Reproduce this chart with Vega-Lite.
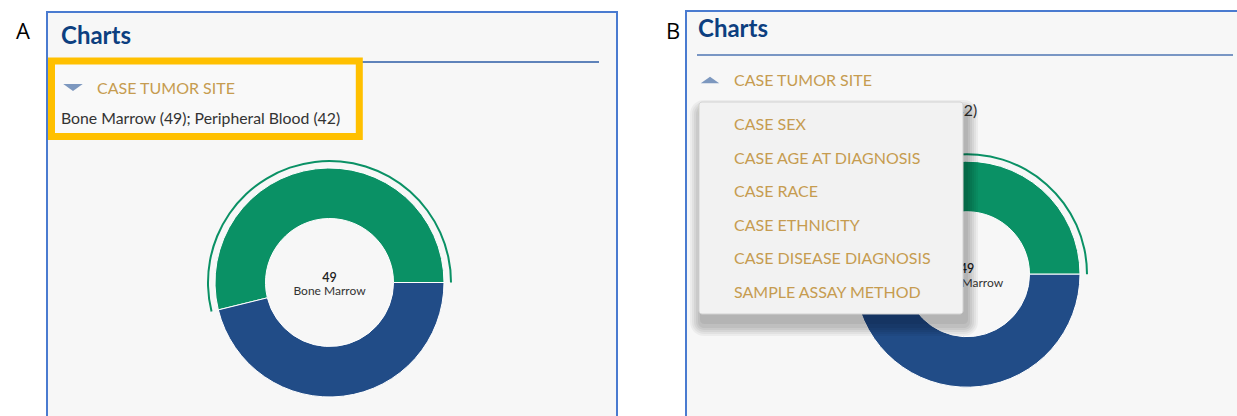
{
  "$schema": "https://vega.github.io/schema/vega-lite/v6.json",
  "width": 1237,
  "height": 416,
  "autosize": {"type": "none"},
  "padding": 0,
  "background": "white",
  "config": {"view": {"stroke": null}},
  "datasets": {
    "site": [
      {"site": "Bone Marrow", "count": 49},
      {"site": "Peripheral Blood", "count": 42}
    ],
    "menu": [
      {"item": "CASE SEX", "rank": 1},
      {"item": "CASE AGE AT DIAGNOSIS", "rank": 2},
      {"item": "CASE RACE", "rank": 3},
      {"item": "CASE ETHNICITY", "rank": 4},
      {"item": "CASE DISEASE DIAGNOSIS", "rank": 5},
      {"item": "SAMPLE ASSAY METHOD", "rank": 6}
    ],
    "one": [{"panel": "x"}]
  },
  "layer": [
    {
      "data": {"name": "one"},
      "mark": {"type": "rect", "fill": "#f7f7f7", "stroke": "#4a7bd0", "strokeWidth": 2},
      "encoding": {"x": {"value": 47}, "x2": {"value": 617}, "y": {"value": 12}, "y2": {"value": 450}}
    },
    {
      "data": {"name": "one"},
      "mark": {"type": "rect", "fill": "#f7f7f7", "stroke": "#4a7bd0", "strokeWidth": 2},
      "encoding": {"x": {"value": 686}, "x2": {"value": 1260}, "y": {"value": 11}, "y2": {"value": 450}}
    },
    {
      "data": {"values": [{"label": "A"}]},
      "mark": {"type": "text", "font": "Open Sans", "fontSize": 22, "color": "#000000", "align": "center", "baseline": "middle"},
      "encoding": {"text": {"field": "label"}, "x": {"value": 23}, "y": {"value": 32}}
    },
    {
      "data": {"values": [{"label": "B"}]},
      "mark": {"type": "text", "font": "Open Sans", "fontSize": 22, "color": "#000000", "align": "center", "baseline": "middle"},
      "encoding": {"text": {"field": "label"}, "x": {"value": 673}, "y": {"value": 32}}
    },
    {
      "data": {"values": [{"label": "Charts"}]},
      "mark": {"type": "text", "font": "Lato", "fontWeight": "bold", "fontSize": 24, "color": "#0d3f80", "align": "left", "baseline": "alphabetic"},
      "encoding": {"text": {"field": "label"}, "x": {"value": 61}, "y": {"value": 43.5}}
    },
    {
      "data": {"values": [{"label": "Charts"}]},
      "mark": {"type": "text", "font": "Lato", "fontWeight": "bold", "fontSize": 24, "color": "#0d3f80", "align": "left", "baseline": "alphabetic"},
      "encoding": {"text": {"field": "label"}, "x": {"value": 698}, "y": {"value": 37}}
    },
    {
      "data": {"name": "one"},
      "mark": {"type": "rule", "stroke": "#2d5ca6", "strokeWidth": 1.5},
      "encoding": {"x": {"value": 60}, "x2": {"value": 599}, "y": {"value": 62}}
    },
    {
      "data": {"name": "one"},
      "mark": {"type": "rule", "stroke": "#4f76b3", "strokeWidth": 1.5},
      "encoding": {"x": {"value": 697}, "x2": {"value": 1233}, "y": {"value": 55}}
    },
    {
      "data": {"name": "one"},
      "mark": {"type": "rect", "fill": "#f9f9f9", "stroke": "#ffc000", "strokeWidth": 7},
      "encoding": {"x": {"value": 51.5}, "x2": {"value": 359.3}, "y": {"value": 61}, "y2": {"value": 136.5}}
    },
    {
      "data": {"name": "one"},
      "mark": {"type": "point", "shape": "M-1,-0.35L1,-0.35L0,0.35Z", "size": 380, "filled": true, "color": "#7d98bf", "opacity": 1},
      "encoding": {"x": {"value": 73}, "y": {"value": 87.5}}
    },
    {
      "data": {"name": "one"},
      "mark": {"type": "point", "shape": "M-1,0.35L1,0.35L0,-0.35Z", "size": 340, "filled": true, "color": "#7d98bf", "opacity": 1},
      "encoding": {"x": {"value": 710}, "y": {"value": 80}}
    },
    {
      "data": {"values": [{"label": "CASE TUMOR SITE"}]},
      "mark": {"type": "text", "font": "Lato", "fontSize": 16, "color": "#c69c50", "align": "left", "baseline": "middle"},
      "encoding": {"text": {"field": "label"}, "x": {"value": 97}, "y": {"value": 89}}
    },
    {
      "data": {"values": [{"label": "CASE TUMOR SITE"}]},
      "mark": {"type": "text", "font": "Lato", "fontSize": 16, "color": "#c69c50", "align": "left", "baseline": "middle"},
      "encoding": {"text": {"field": "label"}, "x": {"value": 734}, "y": {"value": 81}}
    },
    {
      "data": {"values": [{"label": "Bone Marrow (49); Peripheral Blood (42)"}]},
      "mark": {"type": "text", "font": "Lato", "fontSize": 15.8, "color": "#333333", "align": "left", "baseline": "middle"},
      "encoding": {"text": {"field": "label"}, "x": {"value": 61}, "y": {"value": 119}}
    },
    {
      "data": {"values": [{"label": "Bone Marrow (49); Peripheral Blood (42)"}]},
      "mark": {"type": "text", "font": "Lato", "fontSize": 15.8, "color": "#333333", "align": "left", "baseline": "middle"},
      "encoding": {"text": {"field": "label"}, "x": {"value": 698}, "y": {"value": 111}}
    },
    {
      "data": {"name": "site"},
      "mark": {"type": "arc", "innerRadius": 64, "outerRadius": 114.5, "stroke": "#ffffff", "strokeWidth": 1},
      "encoding": {
        "theta": {"field": "count", "type": "quantitative", "stack": true, "scale": {"range": [1.5708, 7.854]}},
        "order": {"field": "site", "sort": "descending"},
        "color": {"field": "site", "type": "nominal", "legend": null, "scale": {"domain": ["Bone Marrow", "Peripheral Blood"], "range": ["#0a9165", "#214c87"]}},
        "x": {"value": 329.5},
        "y": {"value": 282.5}
      }
    },
    {
      "data": {"name": "site"},
      "mark": {"type": "arc", "innerRadius": 120.5, "outerRadius": 122.5, "fill": "#0a9165"},
      "encoding": {
        "theta": {"field": "count", "type": "quantitative", "stack": true},
        "order": {"field": "site", "sort": "descending"},
        "opacity": {"condition": {"test": "datum.site === 'Bone Marrow'", "value": 1}, "value": 0},
        "x": {"value": 329.5},
        "y": {"value": 282.5}
      }
    },
    {
      "data": {"values": [{"label": "49"}]},
      "mark": {"type": "text", "font": "Lato", "fontSize": 12.5, "fontWeight": 600, "color": "#222222", "align": "center", "baseline": "alphabetic"},
      "encoding": {"text": {"field": "label"}, "x": {"value": 329.5}, "y": {"value": 282}}
    },
    {
      "data": {"values": [{"label": "Bone Marrow"}]},
      "mark": {"type": "text", "font": "Lato", "fontSize": 12, "color": "#333333", "align": "center", "baseline": "alphabetic"},
      "encoding": {"text": {"field": "label"}, "x": {"value": 329.5}, "y": {"value": 295}}
    },
    {
      "data": {"name": "site"},
      "mark": {"type": "arc", "innerRadius": 62.5, "outerRadius": 113, "stroke": "#ffffff", "strokeWidth": 1},
      "encoding": {
        "theta": {"field": "count", "type": "quantitative", "stack": true},
        "order": {"field": "site", "sort": "descending"},
        "color": {"field": "site", "type": "nominal", "legend": null},
        "x": {"value": 967},
        "y": {"value": 274.2}
      }
    },
    {
      "data": {"name": "site"},
      "mark": {"type": "arc", "innerRadius": 119, "outerRadius": 121, "fill": "#0a9165"},
      "encoding": {
        "theta": {"field": "count", "type": "quantitative", "stack": true},
        "order": {"field": "site", "sort": "descending"},
        "opacity": {"condition": {"test": "datum.site === 'Bone Marrow'", "value": 1}, "value": 0},
        "x": {"value": 967},
        "y": {"value": 274.2}
      }
    },
    {
      "data": {"values": [{"label": "49"}]},
      "mark": {"type": "text", "font": "Lato", "fontSize": 12.5, "fontWeight": 600, "color": "#222222", "align": "center", "baseline": "alphabetic"},
      "encoding": {"text": {"field": "label"}, "x": {"value": 967}, "y": {"value": 273}}
    },
    {
      "data": {"values": [{"label": "Bone Marrow"}]},
      "mark": {"type": "text", "font": "Lato", "fontSize": 12, "color": "#333333", "align": "center", "baseline": "alphabetic"},
      "encoding": {"text": {"field": "label"}, "x": {"value": 967}, "y": {"value": 287}}
    },
    {
      "data": {"name": "one"},
      "mark": {"type": "rect", "fill": "#000000", "opacity": 0.045, "cornerRadius": 14},
      "encoding": {"x": {"value": 690}, "x2": {"value": 978}, "y": {"value": 100}, "y2": {"value": 336}}
    },
    {
      "data": {"name": "one"},
      "mark": {"type": "rect", "fill": "#000000", "opacity": 0.045, "cornerRadius": 12},
      "encoding": {"x": {"value": 692}, "x2": {"value": 976}, "y": {"value": 102}, "y2": {"value": 334}}
    },
    {
      "data": {"name": "one"},
      "mark": {"type": "rect", "fill": "#000000", "opacity": 0.05, "cornerRadius": 10},
      "encoding": {"x": {"value": 694}, "x2": {"value": 974}, "y": {"value": 104}, "y2": {"value": 332}}
    },
    {
      "data": {"name": "one"},
      "mark": {"type": "rect", "fill": "#000000", "opacity": 0.05, "cornerRadius": 8},
      "encoding": {"x": {"value": 696}, "x2": {"value": 972}, "y": {"value": 106}, "y2": {"value": 330}}
    },
    {
      "data": {"name": "one"},
      "mark": {"type": "rect", "fill": "#000000", "opacity": 0.05, "cornerRadius": 6},
      "encoding": {"x": {"value": 698}, "x2": {"value": 970}, "y": {"value": 108}, "y2": {"value": 328}}
    },
    {
      "data": {"name": "one"},
      "mark": {"type": "rect", "fill": "#000000", "opacity": 0.055, "cornerRadius": 4},
      "encoding": {"x": {"value": 700}, "x2": {"value": 968}, "y": {"value": 110}, "y2": {"value": 324}}
    },
    {
      "data": {"name": "one"},
      "mark": {"type": "rect", "fill": "#f2f2f2", "stroke": "#d2d2d2", "strokeWidth": 1, "cornerRadius": 3},
      "encoding": {"x": {"value": 699}, "x2": {"value": 963}, "y": {"value": 102}, "y2": {"value": 314}}
    },
    {
      "data": {"name": "menu"},
      "mark": {"type": "text", "font": "Lato", "fontSize": 16, "color": "#c69c50", "align": "left", "baseline": "middle"},
      "encoding": {
        "text": {"field": "item"},
        "x": {"value": 734},
        "y": {"field": "rank", "type": "quantitative", "axis": null, "scale": {"domain": [1, 6], "range": [125, 293]}}
      }
    }
  ]
}
